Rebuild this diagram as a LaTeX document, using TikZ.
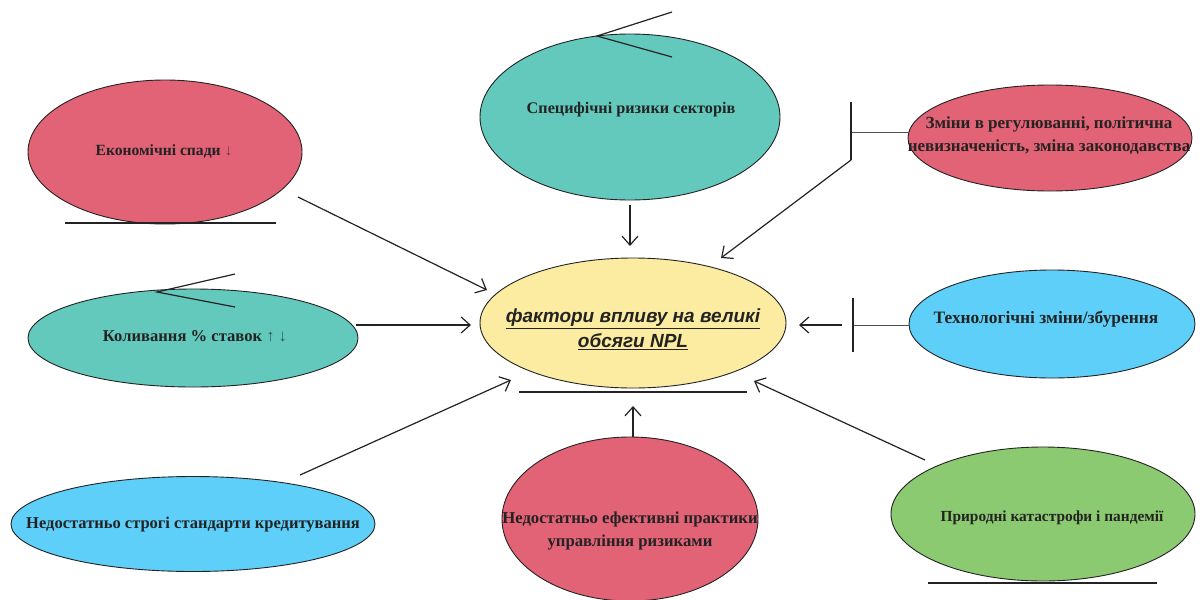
\documentclass[tikz,border=0pt]{standalone}
\usepackage{fontspec}
\setmainfont{Liberation Serif}
\newfontfamily\hubfont{Liberation Sans}
\usetikzlibrary{shapes.geometric,arrows.meta}

\definecolor{rosered}{RGB}{226,98,118}
\definecolor{seateal}{RGB}{100,201,189}
\definecolor{paleyellow}{RGB}{252,236,162}
\definecolor{skyblue}{RGB}{94,207,249}
\definecolor{leafgreen}{RGB}{139,202,112}
\definecolor{inkgray}{RGB}{35,35,35}

\newcommand{\fs}[1]{\fontsize{#1}{#1}\selectfont}

\begin{document}
\begin{tikzpicture}[x=1pt,y=-1pt,
  oval/.style={ellipse, draw=inkgray, line width=0.9pt, inner sep=0pt},
  lbl/.style={font=\bfseries, text=inkgray, align=center, inner sep=0pt},
  hublbl/.style={font=\hubfont\bfseries\itshape\fs{19}, text=inkgray, align=center, inner sep=0pt},
  link/.style={line width=1.2pt, draw=inkgray},
  arr/.style={link, -{Straight Barb[length=9pt,width=16pt,line width=1.2pt]}}
]
\useasboundingbox (0,0) rectangle (1200,600);
\fill[white] (0,0) rectangle (1200,600);

% ellipses
\node[oval, fill=paleyellow, minimum width=306pt, minimum height=130pt] (hub) at (633,323) {};
\node[oval, fill=rosered, minimum width=274pt, minimum height=144pt] (econ) at (165,152) {};
\node[oval, fill=seateal, minimum width=300pt, minimum height=166pt] (sector) at (630,117) {};
\node[oval, fill=rosered, minimum width=284pt, minimum height=106pt] (policy) at (1050,138) {};
\node[oval, fill=seateal, minimum width=330pt, minimum height=98pt] (rates) at (193,338) {};
\node[oval, fill=skyblue, minimum width=286pt, minimum height=108pt] (tech) at (1052,324) {};
\node[oval, fill=skyblue, minimum width=364pt, minimum height=95pt] (lending) at (193,524) {};
\node[oval, fill=rosered, minimum width=256pt, minimum height=164pt] (riskmgmt) at (630,519) {};
\node[oval, fill=leafgreen, minimum width=304pt, minimum height=134pt] (nature) at (1043,514) {};

% labels
\node[hublbl] (hubtext) at (633,329) {\underline{фактори впливу на великі}\\[4pt]\underline{обсяги NPL}};
\node[lbl, font=\bfseries\fs{15.6}] (econtext) at (164,151) {Економічні спади \textcolor{rosered!55!black}{↓}};
\node[lbl, font=\bfseries\fs{16.2}] (sectortext) at (631,110) {Специфічні ризики секторів};
\node[lbl, font=\bfseries\fs{17}, align=center] (policytext) at (1049,136) {Зміни в регулюванні, політична\\[6pt]невизначеність, зміна законодавства};
\node[lbl, font=\bfseries\fs{16.6}] (ratestext) at (195,336) {Коливання \% ставок \textcolor{seateal!45!black}{↑ ↓}};
\node[lbl, font=\bfseries\fs{17.4}] (techtext) at (1046,319) {Технологічні зміни/збурення};
\node[lbl, font=\bfseries\fs{16.5}] (lendingtext) at (193,525) {Недостатньо строгі стандарти кредитування};
\node[lbl, font=\bfseries\fs{16.7}] (riskmgmttext) at (630,531) {Недостатньо ефективні практики\\[6pt]управління ризиками};
\node[lbl, font=\bfseries\fs{15.4}] (naturetext) at (1052,518) {Природні катастрофи і пандемії};

% connector end points
\coordinate (econS) at (298,197);   \coordinate (econE) at (487,290);
\coordinate (sectS) at (630,205);   \coordinate (sectE) at (630,246);
\coordinate (polA) at (908,132);    \coordinate (polB) at (851,132);
\coordinate (polT) at (851,102);    \coordinate (polU) at (851,160);
\coordinate (polE) at (721,258);
\coordinate (rateS) at (356,325);   \coordinate (rateE) at (471,325);
\coordinate (techA) at (909,325);   \coordinate (techB) at (853,325);
\coordinate (techT) at (853,298);   \coordinate (techU) at (853,352);
\coordinate (techS) at (842,325);   \coordinate (techE) at (799,325);
\coordinate (lendS) at (300,475);   \coordinate (lendE) at (511,380);
\coordinate (riskS) at (633,437);   \coordinate (riskE) at (633,406);
\coordinate (natS) at (925,460);    \coordinate (natE) at (754,381);

% connectors
\draw[arr] (econS) -- (econE);
\draw[arr] (sectS) -- (sectE);
\draw[link, line width=0.9pt, draw=inkgray!80] (polA) -- (polB);
\draw[link] (polT) -- (polU);
\draw[arr] (polU) -- (polE);
\draw[arr] (rateS) -- (rateE);
\draw[link, line width=0.9pt, draw=inkgray!80] (techA) -- (techB);
\draw[link] (techT) -- (techU);
\draw[arr, line width=1.6pt] (techS) -- (techE);
\draw[arr] (lendS) -- (lendE);
\draw[arr] (riskS) -- (riskE);
\draw[arr] (natS) -- (natE);

% base rules and angle marks
\draw[link] (65,223) -- (276,223);
\draw[link] (519,392) -- (747,392);
\draw[link] (928,583) -- (1157,583);
\draw[link] (672,12) -- (597,36) -- (672,57);
\draw[link] (235,274) -- (157,292) -- (235,307);
\end{tikzpicture}
\end{document}
